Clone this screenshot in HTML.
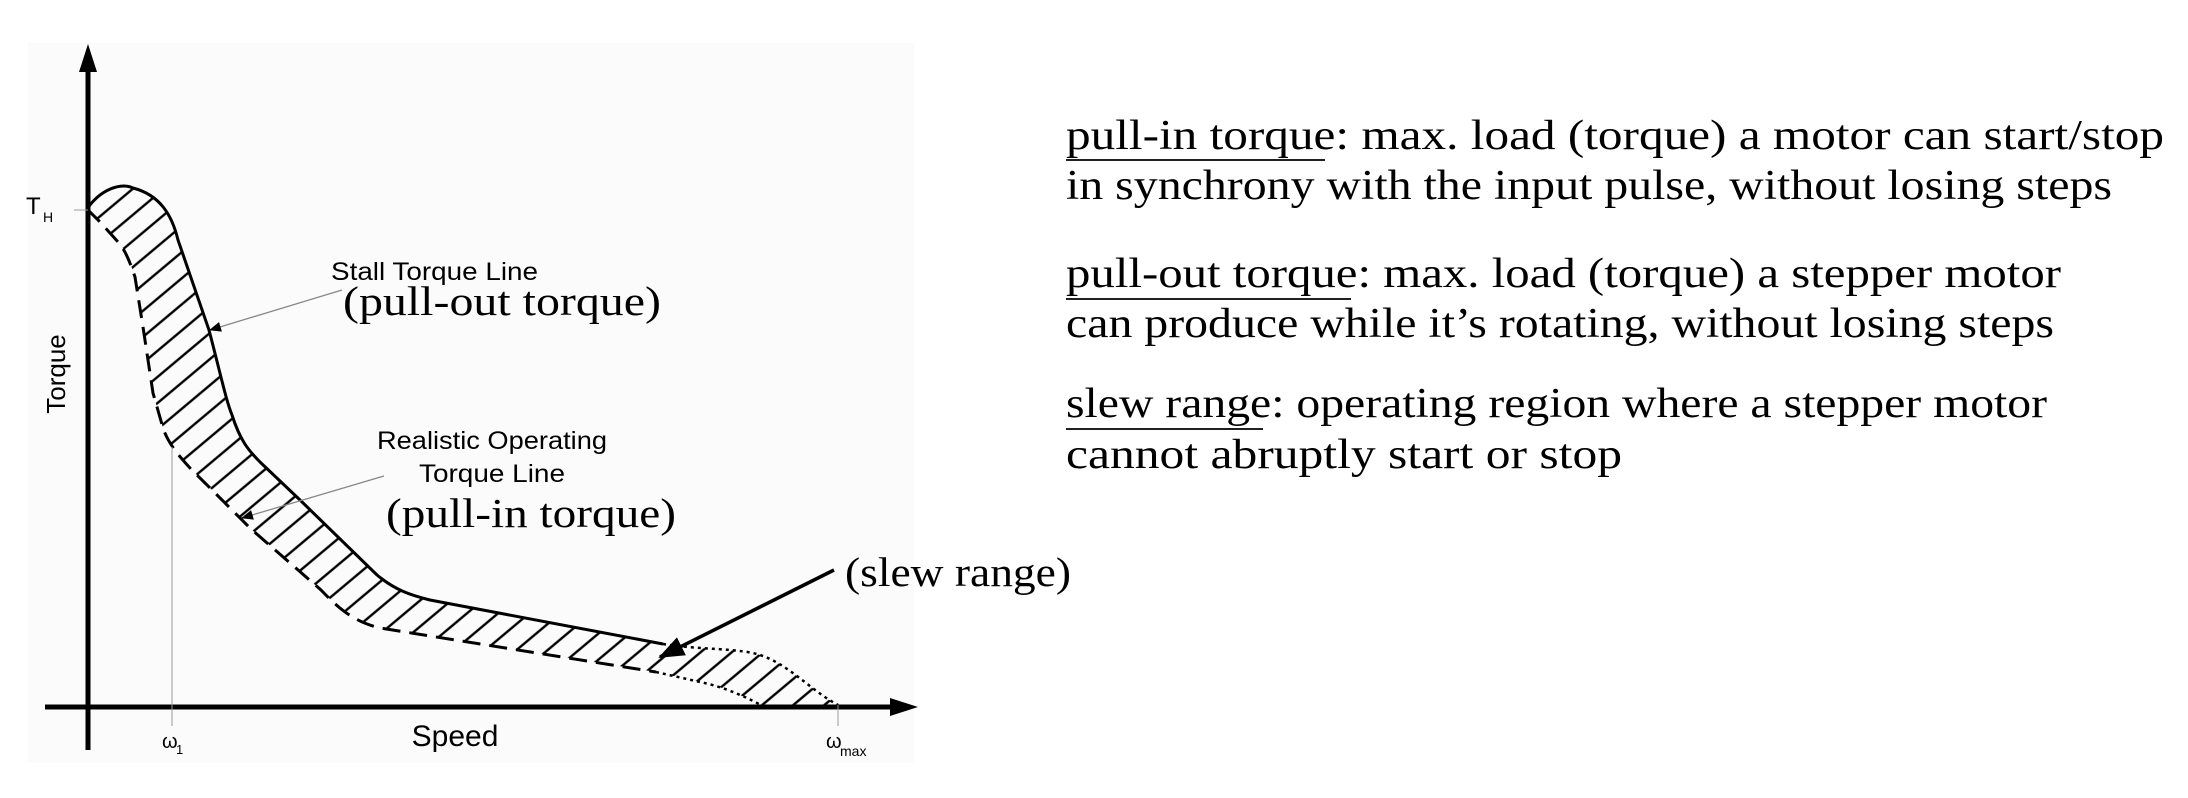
<!DOCTYPE html>
<html><head><meta charset="utf-8"><style>
html,body{margin:0;padding:0;background:#fff;}
svg{display:block;}
.sans{font-family:"Liberation Sans",Arial,sans-serif;}
.serif{font-family:"Liberation Serif","Times New Roman",serif;}
</style></head><body>
<svg width="2188" height="798" viewBox="0 0 2188 798" xmlns="http://www.w3.org/2000/svg">
<defs>
<pattern id="hatch" patternUnits="userSpaceOnUse" width="20" height="20" patternTransform="rotate(50)">
<line x1="10" y1="-5" x2="10" y2="25" stroke="#000" stroke-width="2.4"/>
</pattern>
<clipPath id="reg">
<path d="M87,209 C100,190 120,182 133,188 C160,195 172,215 178,240 L209,330 C222,380 226,400 232,415 C240,440 248,450 260,462 L300,500 L377,575 C395,590 410,595 430,600 L663,644 C700,650 740,648 760,655 C790,665 810,690 838,705 L761,705 C740,694 720,686 700,682 L656,672 L380,628 C355,622 340,610 321,590 L251,529 L190,468 C175,452 167,440 163,428 L153,393 L143,327 L135,277 C130,262 125,250 119,243 L100,222 Z"/>
</clipPath>
<marker id="ag" markerWidth="12" markerHeight="10" refX="11" refY="5" orient="auto" markerUnits="userSpaceOnUse"><path d="M0,0 L12,5 L0,10 Z" fill="#000"/></marker>
<marker id="ab" markerWidth="26" markerHeight="20" refX="24" refY="10" orient="auto" markerUnits="userSpaceOnUse"><path d="M0,0 L26,10 L0,20 Z" fill="#000"/></marker>
</defs>
<rect x="28" y="43" width="886" height="720" fill="#fbfbfb"/>
<rect x="80" y="170" width="780" height="545" fill="url(#hatch)" clip-path="url(#reg)"/>
<path d="M87,209 C100,190 120,182 133,188 C160,195 172,215 178,240 L209,330 C222,380 226,400 232,415 C240,440 248,450 260,462 L300,500 L377,575 C395,590 410,595 430,600 L663,644" fill="none" stroke="#000" stroke-width="3"/>
<path d="M663,644 C700,650 740,648 760,655 C790,665 810,690 838,705" fill="none" stroke="#000" stroke-width="2.5" stroke-dasharray="3,4"/>
<path d="M87,209 L100,222 L119,243 C125,250 130,262 135,277 L143,327 L153,393 L163,428 C167,440 175,452 190,468 L251,529 L321,590 C340,610 355,622 380,628 L656,672" fill="none" stroke="#000" stroke-width="3" stroke-dasharray="18,9"/>
<path d="M656,672 L700,682 C720,686 740,694 761,705" fill="none" stroke="#000" stroke-width="2.5" stroke-dasharray="3,4"/>
<line x1="88" y1="60" x2="88" y2="750" stroke="#000" stroke-width="5"/>
<path d="M88,44 L79,72 L97,72 Z" fill="#000"/>
<line x1="45" y1="707" x2="900" y2="707" stroke="#000" stroke-width="5"/>
<path d="M918,707 L890,698 L890,716 Z" fill="#000"/>
<line x1="74" y1="210" x2="88" y2="210" stroke="#999" stroke-width="1"/>
<line x1="172" y1="447" x2="172" y2="726" stroke="#999" stroke-width="1"/>
<line x1="838" y1="705" x2="838" y2="726" stroke="#999" stroke-width="1"/>
<text x="26" y="214" class="sans" font-size="24">T</text>
<text x="43" y="222" class="sans" font-size="14">H</text>
<text x="162" y="748" class="sans" font-size="20">ω</text>
<text x="176" y="754" class="sans" font-size="13">1</text>
<text x="826" y="748" class="sans" font-size="20">ω</text>
<text x="840" y="756" class="sans" font-size="14">max</text>
<text x="455" y="746" class="sans" font-size="30" text-anchor="middle">Speed</text>
<text transform="translate(65,374) rotate(-90)" class="sans" font-size="26" text-anchor="middle">Torque</text>
<text x="331" y="280" class="sans" font-size="25" textLength="207" lengthAdjust="spacingAndGlyphs">Stall Torque Line</text>
<text x="343" y="315" class="serif" font-size="41" textLength="318" lengthAdjust="spacingAndGlyphs">(pull-out torque)</text>
<line x1="342" y1="290" x2="210" y2="330" stroke="#888" stroke-width="1.3" marker-end="url(#ag)"/>
<text x="377" y="449" class="sans" font-size="25" textLength="230" lengthAdjust="spacingAndGlyphs">Realistic Operating</text>
<text x="419" y="482" class="sans" font-size="25" textLength="146" lengthAdjust="spacingAndGlyphs">Torque Line</text>
<text x="386" y="527" class="serif" font-size="41" textLength="290" lengthAdjust="spacingAndGlyphs">(pull-in torque)</text>
<line x1="384" y1="476" x2="242" y2="518" stroke="#888" stroke-width="1.3" marker-end="url(#ag)"/>
<text x="845" y="586" class="serif" font-size="41" textLength="226" lengthAdjust="spacingAndGlyphs">(slew range)</text>
<line x1="834" y1="570" x2="660" y2="657" stroke="#000" stroke-width="3.5" marker-end="url(#ab)"/>
<g class="serif" font-size="42">
<text x="1066" y="149" textLength="1098" lengthAdjust="spacingAndGlyphs">pull-in torque: max. load (torque) a motor can start/stop</text>
<line x1="1066" y1="160" x2="1325" y2="160" stroke="#000" stroke-width="1.8"/>
<text x="1066" y="199" textLength="1046" lengthAdjust="spacingAndGlyphs">in synchrony with the input pulse, without losing steps</text>
<text x="1066" y="287" textLength="995" lengthAdjust="spacingAndGlyphs">pull-out torque: max. load (torque) a stepper motor</text>
<line x1="1066" y1="299" x2="1351" y2="299" stroke="#000" stroke-width="1.8"/>
<text x="1066" y="337" textLength="988" lengthAdjust="spacingAndGlyphs">can produce while it’s rotating, without losing steps</text>
<text x="1066" y="417" textLength="981" lengthAdjust="spacingAndGlyphs">slew range: operating region where a stepper motor</text>
<line x1="1066" y1="429" x2="1263" y2="429" stroke="#000" stroke-width="1.8"/>
<text x="1066" y="468" textLength="556" lengthAdjust="spacingAndGlyphs">cannot abruptly start or stop</text>
</g>
</svg>
</body></html>
